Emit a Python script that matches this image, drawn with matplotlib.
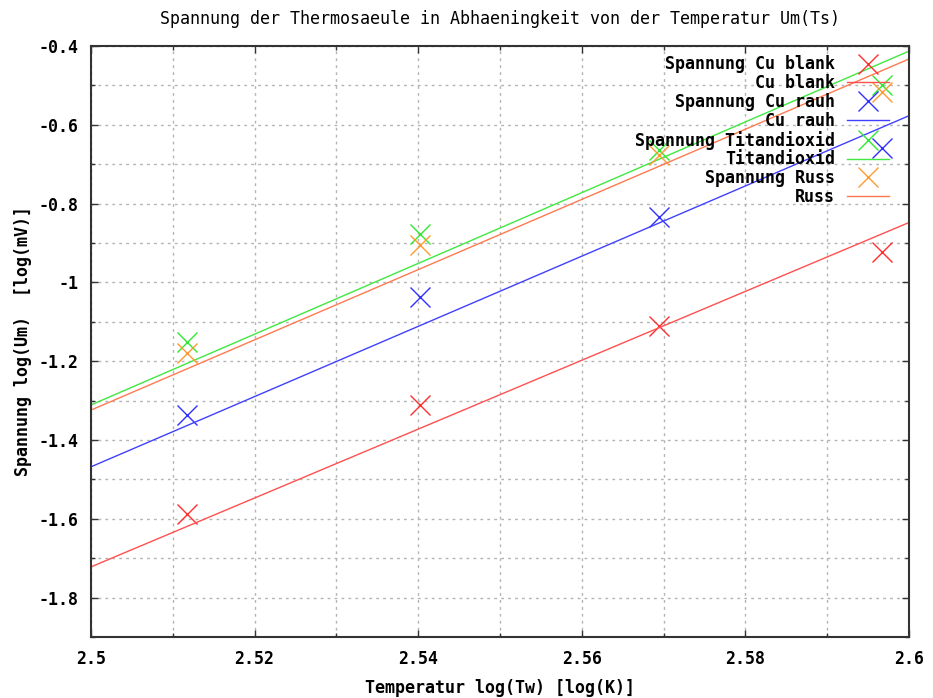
import numpy as np
import matplotlib
matplotlib.use('Agg')
import matplotlib.pyplot as plt
from matplotlib.ticker import MultipleLocator

# Messwerte (log10 der Temperatur / Spannung)
log_tw = [2.5117, 2.5402, 2.5694, 2.5967]
cu_blank = [-1.587, -1.311, -1.111, -0.924]
cu_rauh = [-1.337, -1.038, -0.835, -0.658]
titandioxid = [-1.152, -0.876, -0.663, -0.499]
russ = [-1.180, -0.904, -0.676, -0.516]

# Fitgeraden y = m*x + c
fit_m = {'Cu blank': 8.74, 'Cu rauh': 8.91, 'Titandioxid': 8.98, 'Russ': 8.91}
fit_c = {'Cu blank': -23.572, 'Cu rauh': -23.743, 'Titandioxid': -23.761, 'Russ': -23.599}

mono = 'DejaVu Sans Mono'
plt.rcParams['font.family'] = mono

fig = plt.figure(figsize=(9.33, 6.98), dpi=100)
ax = fig.add_axes([91 / 933, 1 - 637 / 698, 818 / 933, 591 / 698])

xs = np.linspace(2.5, 2.6, 200)

series = [
    ('Cu blank', cu_blank, '#ff3030', '#ff5050'),
    ('Cu rauh', cu_rauh, '#3030ff', '#4040ff'),
    ('Titandioxid', titandioxid, '#30e830', '#40e840'),
    ('Russ', russ, '#ff9a30', '#ff7a50'),
]

for name, vals, pcol, lcol in series:
    ax.plot(log_tw, vals, linestyle='none', marker='x', markersize=14,
            markeredgewidth=1.0, color=pcol, label='Spannung ' + name)
    ax.plot(xs, fit_m[name] * xs + fit_c[name], color=lcol, linewidth=1.0,
            label=name)

ax.set_xlim(2.5, 2.6)
ax.set_ylim(-1.9, -0.4)
ax.xaxis.set_major_locator(MultipleLocator(0.02))
ax.xaxis.set_minor_locator(MultipleLocator(0.01))
ax.yaxis.set_major_locator(MultipleLocator(0.2))
ax.yaxis.set_minor_locator(MultipleLocator(0.1))
ax.set_xticks([2.5, 2.52, 2.54, 2.56, 2.58, 2.6])
ax.set_xticklabels(['2.5', '2.52', '2.54', '2.56', '2.58', '2.6'])
ax.set_yticks([-1.8, -1.6, -1.4, -1.2, -1.0, -0.8, -0.6, -0.4])
ax.set_yticklabels(['-1.8', '-1.6', '-1.4', '-1.2', '-1', '-0.8', '-0.6', '-0.4'])

ax.grid(True, which='both', color='#b4b4b4', linestyle=(0, (2, 3)), linewidth=1.0)
ax.tick_params(which='both', direction='in', top=True, right=True, color='#333333')
ax.tick_params(which='major', length=5, width=1, labelsize=12, pad=9)
ax.tick_params(which='minor', length=3, width=1)
for lab in ax.get_xticklabels() + ax.get_yticklabels():
    lab.set_fontweight('bold')
for sp in ax.spines.values():
    sp.set_linewidth(1.5)
    sp.set_color('#333333')

ax.set_xlabel('Temperatur log(Tw) [log(K)]', fontsize=12, fontweight='bold', labelpad=8)
ax.set_ylabel('Spannung log(Um)  [log(mV)]', fontsize=12, fontweight='bold', labelpad=5)
ax.set_title('Spannung der Thermosaeule in Abhaeningkeit von der Temperatur Um(Ts)',
             fontsize=12, pad=16)

leg = ax.legend(loc='upper right', bbox_to_anchor=(1 - 17 / 818, 1 - 6 / 591),
                markerfirst=False, frameon=False, numpoints=1,
                prop={'family': mono, 'weight': 'bold', 'size': 12},
                handlelength=2.5, handletextpad=0.7, labelspacing=0.05,
                borderaxespad=0, borderpad=0.2)

fig.savefig('out.png', dpi=100)
